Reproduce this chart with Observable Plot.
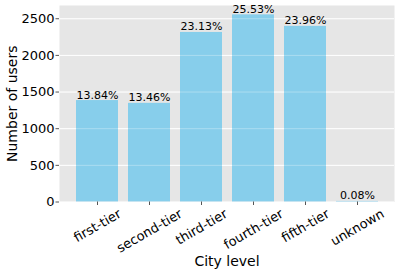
<!DOCTYPE html>
<html><head><meta charset="utf-8">
<script src="https://cdn.jsdelivr.net/npm/d3@7"></script>
<script src="https://cdn.jsdelivr.net/npm/@observablehq/plot@0.6"></script>
<style>body{margin:0;background:#fff;} svg{display:block;}</style>
</head><body><div id="chart"></div>
<script>
const categories = ["first-tier","second-tier","third-tier","fourth-tier","fifth-tier","unknown"];
const users = [1384, 1346, 2313, 2553, 2396, 8];
const percentLabels = ["13.84%","13.46%","23.13%","25.53%","23.96%","0.08%"];
const yTicks = [0, 500, 1000, 1500, 2000, 2500];

const data = categories.map((c, i) => ({city: c, users: users[i], pct: percentLabels[i]}));
const font = "DejaVu Sans";
const xFs = 13;
const ctx = document.createElement("canvas").getContext("2d");
ctx.font = `${xFs}px "${font}"`;
const labelMarks = categories.map(c => {
  const w = ctx.measureText(c).width;
  const h = w * 0.5 + 0.76 * xFs * 0.866;
  return Plot.text([c], {x: d => d, frameAnchor: "bottom", dy: 6.5 + h / 2, rotate: -30,
    textAnchor: "middle", lineAnchor: "middle", fontSize: xFs, fill: "#000"});
});

const chart = Plot.plot({
  width: 399, height: 275,
  marginLeft: 59, marginRight: 5, marginTop: 5, marginBottom: 73.5,
  style: {fontFamily: font, background: "#fff", color: "#000"},
  x: {domain: categories, paddingInner: 0.2, paddingOuter: 0.29, axis: null},
  y: {domain: [0, 2553 * 1.05], axis: null},
  marks: [
    Plot.frame({fill: "#e6e6e6", stroke: null}),
    Plot.gridY(yTicks, {stroke: "#fff", strokeOpacity: 1, strokeWidth: 1}),
    Plot.barY(data, {x: "city", y: "users", fill: "#87ceeb"}),
    Plot.gridY(yTicks, {stroke: "#fff", strokeOpacity: 0.3, strokeWidth: 1}),
    Plot.text(data, {x: "city", y: "users", text: "pct", lineAnchor: "bottom", dy: -2, fontSize: 11, fill: "#000"}),
    Plot.axisY(yTicks, {tickSize: 3.5, tickPadding: 1.5, fontSize: 13, label: null, stroke: "#555", fill: "#000", tickFormat: d3.format("d")}),
    Plot.axisX({tickSize: 3.5, text: null, label: null, stroke: "#555"}),
    ...labelMarks,
    Plot.text(["Number of users"], {frameAnchor: "left", dx: -47, rotate: -90, fontSize: 14, fill: "#000", textAnchor: "middle", lineAnchor: "middle"}),
    Plot.text(["City level"], {frameAnchor: "bottom", dy: 60, fontSize: 14, fill: "#000", textAnchor: "middle", lineAnchor: "middle"})
  ]
});
document.getElementById("chart").appendChild(chart);
</script>
</body></html>
